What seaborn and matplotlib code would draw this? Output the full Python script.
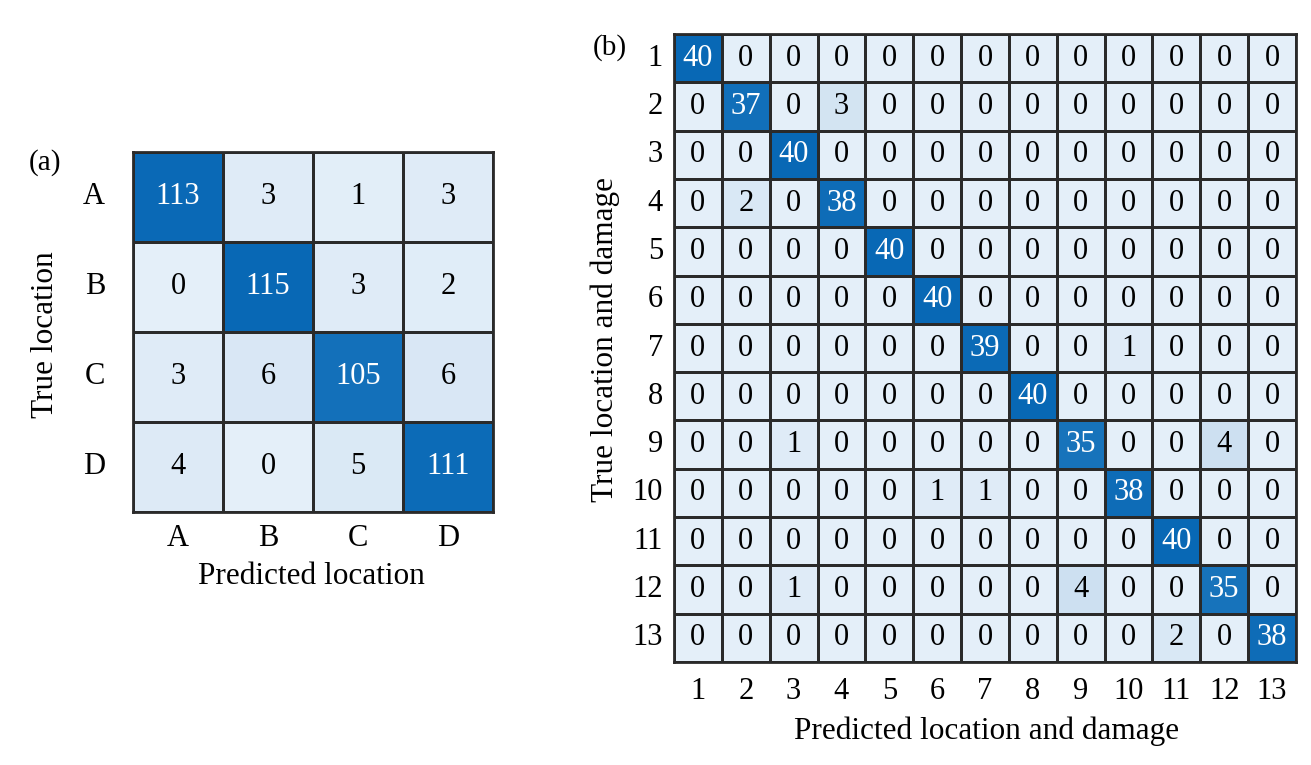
import matplotlib
matplotlib.use("Agg")
import matplotlib.pyplot as plt
import seaborn as sns
import numpy as np
from matplotlib.colors import LinearSegmentedColormap

# confusion matrix (a): location only
loc_labels = ["A", "B", "C", "D"]
cm_loc = [
    [113, 3, 1, 3],
    [0, 115, 3, 2],
    [3, 6, 105, 6],
    [4, 0, 5, 111],
]

# confusion matrix (b): location and damage
ld_labels = [str(i) for i in range(1, 14)]
cm_ld = [
    [40, 0, 0, 0, 0, 0, 0, 0, 0, 0, 0, 0, 0],
    [0, 37, 0, 3, 0, 0, 0, 0, 0, 0, 0, 0, 0],
    [0, 0, 40, 0, 0, 0, 0, 0, 0, 0, 0, 0, 0],
    [0, 2, 0, 38, 0, 0, 0, 0, 0, 0, 0, 0, 0],
    [0, 0, 0, 0, 40, 0, 0, 0, 0, 0, 0, 0, 0],
    [0, 0, 0, 0, 0, 40, 0, 0, 0, 0, 0, 0, 0],
    [0, 0, 0, 0, 0, 0, 39, 0, 0, 1, 0, 0, 0],
    [0, 0, 0, 0, 0, 0, 0, 40, 0, 0, 0, 0, 0],
    [0, 0, 1, 0, 0, 0, 0, 0, 35, 0, 0, 4, 0],
    [0, 0, 0, 0, 0, 1, 1, 0, 0, 38, 0, 0, 0],
    [0, 0, 0, 0, 0, 0, 0, 0, 0, 0, 40, 0, 0],
    [0, 0, 1, 0, 0, 0, 0, 0, 4, 0, 0, 35, 0],
    [0, 0, 0, 0, 0, 0, 0, 0, 0, 0, 2, 0, 38],
]

plt.rcParams["font.family"] = ["Liberation Serif", "DejaVu Serif"]

cmap = LinearSegmentedColormap.from_list(
    "cm_blue", [(0, "#E4EFF9"), (0.08, "#D2E3F2"), (0.6, "#3A8CCA"), (1, "#0868B5")], N=256)

fig = plt.figure(figsize=(13.11, 7.65), dpi=100)
ax1 = fig.add_axes([133 / 1311, 1 - 512 / 765, 360 / 1311, 360 / 765])
ax2 = fig.add_axes([674 / 1311, 1 - 662 / 765, 622 / 1311, 628 / 765])

line_c = "#2a2a2a"

sns.heatmap(np.array(cm_loc), ax=ax1, cmap=cmap, vmin=0, vmax=115,
            annot=True, fmt="d", annot_kws={"fontsize": 22},
            linewidths=2.0, linecolor=line_c, cbar=False,
            xticklabels=loc_labels, yticklabels=loc_labels)
sns.heatmap(np.array(cm_ld), ax=ax2, cmap=cmap, vmin=0, vmax=40,
            annot=True, fmt="d", annot_kws={"fontsize": 22},
            linewidths=2.0, linecolor=line_c, cbar=False,
            xticklabels=ld_labels, yticklabels=ld_labels)

for ax in (ax1, ax2):
    for s in ax.spines.values():
        s.set_visible(True)
        s.set_color(line_c)
        s.set_linewidth(2.0)
    ax.tick_params(length=0, labelsize=22)
    ax.set_yticklabels(ax.get_yticklabels(), rotation=0)
    ax.set_xticklabels(ax.get_xticklabels(), rotation=0)
    for t in ax.texts:
        if t.get_color() != "w":
            t.set_color("black")

ax1.tick_params(axis="y", pad=20)
ax1.tick_params(axis="x", pad=9)
ax2.tick_params(axis="y", pad=8)
ax2.tick_params(axis="x", pad=11)

fig.text(311 / 1311, 1 - 577 / 765, "Predicted location", fontsize=22.5,
         ha="center", va="center")
fig.text(46 / 1311, 1 - 335 / 765, "True location", fontsize=22.5,
         ha="center", va="center", rotation=90)
fig.text(987 / 1311, 1 - 731 / 765, "Predicted location and damage",
         fontsize=22.5, ha="center", va="center")
fig.text(605 / 1311, 1 - 340 / 765, "True location and damage", fontsize=22.5,
         ha="center", va="center", rotation=90)

fig.text(45 / 1311, 1 - 163 / 765, "(a)", fontsize=21, ha="center", va="center")
fig.text(610 / 1311, 1 - 48 / 765, "(b)", fontsize=21, ha="center", va="center")

fig.savefig("out.png", dpi=100)
